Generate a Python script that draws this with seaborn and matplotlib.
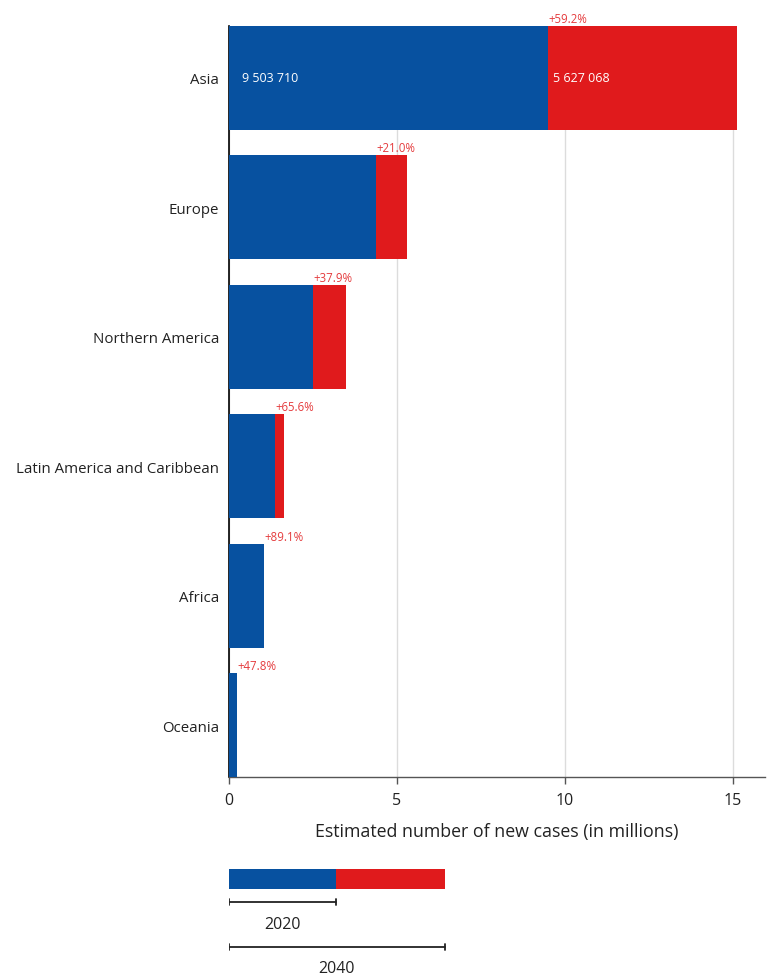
import matplotlib
matplotlib.use("Agg")
import matplotlib.pyplot as plt
import seaborn as sns
import pandas as pd

# values (millions of new cases)
regions = ["Asia", "Europe", "Northern America", "Latin America and Caribbean", "Africa", "Oceania"]
cases_2020 = [9.50371, 4.38, 2.51, 1.38, 1.04, 0.24]
extra_2040 = [5.627068, 0.92, 0.97, 0.27, 0.0, 0.0]
pct_labels = ["+59.2%", "+21.0%", "+37.9%", "+65.6%", "+89.1%", "+47.8%"]
asia_labels = ["9 503 710", "5 627 068"]
xticks = [0, 5, 10, 15]

# schematic legend bar
legend_parts = [3.18, 3.24]
legend_years = ["2020", "2040"]

BLUE = "#0751a0"
RED = "#e01a1c"

df = pd.DataFrame({"region": regions, "y2020": cases_2020, "extra": extra_2040})
df["y2040"] = df["y2020"] + df["extra"]

sns.set_style("white")
plt.rcParams["font.family"] = ["Open Sans", "DejaVu Sans"]

fig = plt.figure(figsize=(7.67, 9.78), dpi=100)
ax = fig.add_axes([229 / 767, 1 - 778 / 978, 536 / 767, 751 / 978])

sns.barplot(data=df, y="region", x="y2040", color=RED, saturation=1, width=0.8,
            errorbar=None, linewidth=0, ax=ax, zorder=2)
sns.barplot(data=df, y="region", x="y2020", color=BLUE, saturation=1, width=0.8,
            errorbar=None, linewidth=0, ax=ax, zorder=3)

ax.set_ylim(5.4, -0.4)
ax.set_xlim(0, 15.95)
ax.set_xticks(xticks)
ax.set_axisbelow(True)
ax.xaxis.grid(True, color="#dcdcdc", lw=1)
ax.yaxis.grid(False)

for s in ["top", "right"]:
    ax.spines[s].set_visible(False)
ax.spines["left"].set_color("black")
ax.spines["left"].set_linewidth(1.2)
ax.spines["bottom"].set_color("#555555")
ax.spines["bottom"].set_linewidth(1)

ax.tick_params(axis="y", length=0, pad=7, labelsize=10.8, labelcolor="#222222")
ax.tick_params(axis="x", length=5, width=1, color="#555555", pad=6,
               labelsize=11.5, labelcolor="#222222", bottom=True)
ax.set_ylabel("")
ax.set_xlabel("Estimated number of new cases (in millions)", fontsize=12.8,
              color="#222222", labelpad=10)

# percentage change labels just above each bar
for i, (v, p) in enumerate(zip(cases_2020, pct_labels)):
    ax.text(v, i - 0.41, p, color=RED, alpha=0.85, ha="left", va="bottom", fontsize=8.3)

# values inside the Asia bar
ax.text(0.4, 0, asia_labels[0], color="white", va="center", ha="left", fontsize=9)
ax.text(cases_2020[0] + 0.15, 0, asia_labels[1], color="white", va="center", ha="left", fontsize=9)

# legend drawn below the axis (y in pixels from 860)
lax = fig.add_axes([229 / 767, 0, 536 / 767, 118 / 978])
lax.set_xlim(0, 15.95)
lax.set_ylim(118, 0)
lax.axis("off")
lax.barh(20, legend_parts[0], height=20, color=BLUE, linewidth=0)
lax.barh(20, legend_parts[1], left=legend_parts[0], height=20, color=RED, linewidth=0)

ends = [legend_parts[0], legend_parts[0] + legend_parts[1]]
for end, year, ly, ty in zip(ends, legend_years, [43, 88], [65, 109]):
    lax.plot([0, end], [ly, ly], color="#222222", lw=1.3)
    lax.plot([0, 0], [ly - 3, ly + 3], color="#222222", lw=1.3)
    lax.plot([end, end], [ly - 3, ly + 3], color="#222222", lw=1.3)
    lax.text(end / 2, ty, year, ha="center", va="center", fontsize=11.5, color="#222222")

fig.savefig("out.png", dpi=100)
